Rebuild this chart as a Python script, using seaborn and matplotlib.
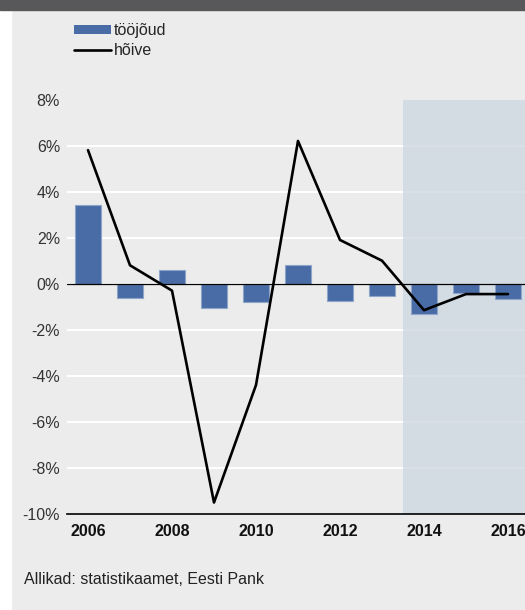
import numpy as np
import pandas as pd
import seaborn as sns
import matplotlib.pyplot as plt
from matplotlib.patches import Rectangle, Patch
from matplotlib.lines import Line2D

years = [2006, 2007, 2008, 2009, 2010, 2011, 2012, 2013, 2014, 2015, 2016]
labour_force = [3.4, -0.6, 0.6, -1.05, -0.8, 0.8, -0.75, -0.55, -1.3, -0.4, -0.65]
employment = [5.8, 0.8, -0.3, -9.5, -4.4, 6.2, 1.9, 1.0, -1.15, -0.45, -0.45]
y_ticks = [-10, -8, -6, -4, -2, 0, 2, 4, 6, 8]
y_tick_labels = ['-10%', '-8%', '-6%', '-4%', '-2%', '0%', '2%', '4%', '6%', '8%']
forecast_from = 2014

bg = '#ebeceb'
bar_color = '#4a6ca6'

sns.set_style('white', rc={'axes.facecolor': bg, 'figure.facecolor': bg})
plt.rcParams['font.family'] = ['Liberation Sans', 'DejaVu Sans']
plt.rcParams['font.size'] = 11.5

data = pd.DataFrame({'year': years, 'tööjõud': labour_force, 'hõive': employment})
data['pos'] = np.arange(len(years))

W, H = 525, 610
fig = plt.figure(figsize=(W / 100, H / 100), dpi=100)
fig.patches.append(Rectangle((0, 0), 11 / W, 1, transform=fig.transFigure, color='white', zorder=-1))
fig.patches.append(Rectangle((0, 1 - 10 / H), 1, 10 / H, transform=fig.transFigure, color='#58585a', zorder=-1))

left, right, top, bottom = 67, 529, 99.5, 514
ax = fig.add_axes([left / W, 1 - bottom / H, (right - left) / W, (bottom - top) / H])

for y in y_ticks:
    ax.axhline(y, color='white', lw=1.5, zorder=0)

# shaded forecast area
start = years.index(forecast_from) - 0.5
ax.axvspan(start, len(years) - 0.5, color='#cfd8e1', alpha=0.8, lw=0, zorder=0.5)

sns.barplot(data=data, x='year', y='tööjõud', color=bar_color, width=0.62,
            edgecolor='#8ea5c9', linewidth=0.8, saturation=1, ax=ax, zorder=2)
ax.axhline(0, color='black', lw=0.9, zorder=3)
sns.lineplot(data=data, x='pos', y='hõive', color='black', lw=1.9, ax=ax, zorder=4)

ax.set_xlim(-0.5, len(years) - 0.5)
ax.set_ylim(-10, 8)
ax.set_xlabel('')
ax.set_ylabel('')

ax.set_yticks(y_ticks)
ax.set_yticklabels(y_tick_labels, color='#333333')
ax.tick_params(axis='y', length=0, pad=5)

ax.set_xticks(np.arange(0, len(years), 2))
ax.set_xticklabels([str(y) for y in years[::2]], fontweight='bold', color='#111111')
ax.set_xticks(np.arange(-0.5, len(years), 1), minor=True)
ax.tick_params(axis='x', which='major', length=0, pad=7)
ax.tick_params(axis='x', which='minor', direction='in', length=4, width=1, color='black')

sns.despine(ax=ax, left=True, right=True, top=True)
ax.spines['bottom'].set_color('black')
ax.spines['bottom'].set_linewidth(1.2)

handles = [Patch(facecolor=bar_color, edgecolor='none'),
           Line2D([], [], color='black', lw=1.9)]
fig.legend(handles, ['tööjõud', 'hõive'], loc='upper left',
           bbox_to_anchor=(74 / W, 1 - 23 / H), frameon=False,
           handlelength=2.3, handleheight=0.55, handletextpad=0.2,
           labelspacing=0.3, borderpad=0, borderaxespad=0)

fig.text(24 / W, 1 - 579 / H, 'Allikad: statistikaamet, Eesti Pank',
         ha='left', va='center', color='#222222')

fig.savefig('out.png', dpi=100, facecolor=bg)
